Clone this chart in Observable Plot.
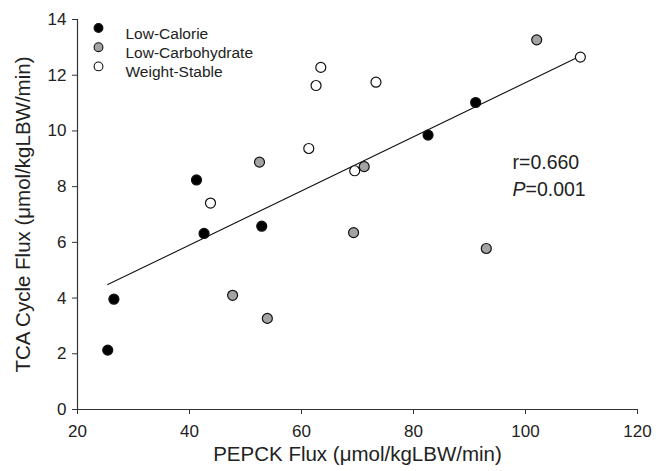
<!DOCTYPE html>
<html><head><meta charset="utf-8">
<script src="https://cdn.jsdelivr.net/npm/d3@7"></script>
<script src="https://cdn.jsdelivr.net/npm/@observablehq/plot@0.6"></script>
<style>body{margin:0;background:#fff}</style>
</head><body><div id="chart"></div>
<script>
const groups = ["Low-Calorie", "Low-Carbohydrate", "Weight-Stable"];
const fills = ["#000000", "#a3a3a3", "#ffffff"];
const lowCalorieX = [25.4, 26.5, 41.25, 42.6, 52.9, 82.6, 91.1];
const lowCalorieY = [2.13, 3.96, 8.24, 6.32, 6.58, 9.85, 11.02];
const lowCarbX = [47.7, 52.5, 53.9, 69.3, 71.2, 93.0, 102.0];
const lowCarbY = [4.1, 8.88, 3.27, 6.35, 8.72, 5.78, 13.27];
const weightStableX = [43.75, 61.3, 62.6, 63.45, 69.5, 73.3, 109.8];
const weightStableY = [7.41, 9.37, 11.63, 12.28, 8.57, 11.75, 12.65];
const xTicks = [20, 40, 60, 80, 100, 120];
const yTicks = [0, 2, 4, 6, 8, 10, 12, 14];
const xTitle = "PEPCK Flux (μmol/kgLBW/min)";
const yTitle = "TCA Cycle Flux (μmol/kgLBW/min)";
const rText = "r=0.660";
const pLetter = "P";
const pText = "=0.001";

const seriesX = [lowCalorieX, lowCarbX, weightStableX];
const seriesY = [lowCalorieY, lowCarbY, weightStableY];
const data = groups.flatMap((g, i) => seriesX[i].map((x, j) => ({group: g, x, y: seriesY[i][j]})));

const font = "'Liberation Sans', Arial, sans-serif";
const ink = "#222";

const legendMarks = groups.flatMap((g, i) => [
  Plot.dot([g], {x: null, y: null, frameAnchor: "top-left", dx: 21, dy: 8.5 + 19.2 * i, r: 4.4,
    fill: fills[i], stroke: "#111", strokeWidth: 1.1}),
  Plot.text([g], {x: null, y: null, frameAnchor: "top-left", dx: 48, dy: 8.5 + 19.2 * i,
    text: d => d, textAnchor: "start", fontSize: 15.5, fill: ink})
]);

const plot = Plot.plot({
  width: 656, height: 471,
  marginLeft: 77, marginRight: 19, marginTop: 19, marginBottom: 62,
  style: {fontFamily: font, background: "#fff", color: ink},
  x: {domain: [20, 120]},
  y: {domain: [0, 14]},
  color: {domain: groups, range: fills},
  marks: [
    Plot.axisX({ticks: xTicks, tickSize: 5, tickPadding: 10, fontSize: 17, label: null, stroke: "#333", fill: ink}),
    Plot.axisY({ticks: yTicks, tickSize: 5, tickPadding: 6, fontSize: 17, label: null, stroke: "#333", fill: ink}),
    Plot.ruleY([0], {stroke: "#333", strokeWidth: 1.2}),
    Plot.ruleX([20], {stroke: "#333", strokeWidth: 1.2}),
    Plot.linearRegressionY(data, {x: "x", y: "y", ci: 0, stroke: "#111", strokeWidth: 1.1}),
    Plot.dot(data, {x: "x", y: "y", r: 5, fill: "group", stroke: "#111", strokeWidth: 1.2}),
    Plot.text([xTitle], {x: null, y: null, frameAnchor: "bottom", dy: 51, text: d => d, fontSize: 20.5, fill: ink}),
    Plot.text([yTitle], {x: null, y: null, frameAnchor: "left", dx: -54, rotate: -90, textAnchor: "middle", text: d => d, fontSize: 20.5, fill: ink}),
    Plot.text([rText], {x: null, y: null, frameAnchor: "top-left", dx: 435, dy: 136, text: d => d, textAnchor: "start", fontSize: 19.5, fill: ink}),
    Plot.text([pLetter], {x: null, y: null, frameAnchor: "top-left", dx: 435, dy: 163, text: d => d, textAnchor: "start", fontSize: 19.5, fontStyle: "italic", fill: ink}),
    Plot.text([pText], {x: null, y: null, frameAnchor: "top-left", dx: 448, dy: 163, text: d => d, textAnchor: "start", fontSize: 19.5, fill: ink}),
    ...legendMarks
  ]
});
document.getElementById("chart").appendChild(plot);
</script>
</body></html>
